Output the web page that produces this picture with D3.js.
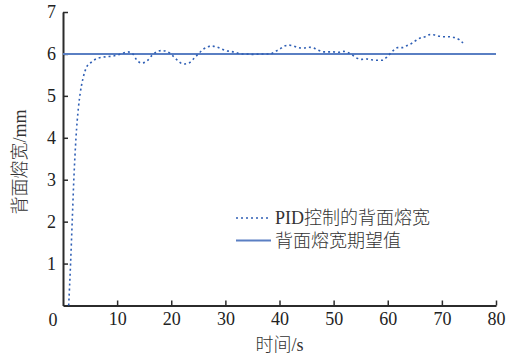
<!DOCTYPE html>
<html>
<head>
<meta charset="utf-8">
<script src="https://cdn.jsdelivr.net/npm/d3@7"></script>
<style>
  body { margin: 0; background: #fff; }
  svg text { font-family: "Liberation Serif", "Noto Sans CJK SC", serif; }
  .cjk { font-weight: 300; }
</style>
</head>
<body>
<svg id="chart" width="519" height="357"></svg>
<script>
// PID-controlled back bead width (time s, width mm)
const pidTime = [1.05, 1.4, 1.7, 2.0, 2.4, 2.85, 3.2, 3.7, 4.3, 5.2, 6.5, 7.8, 9.3, 10.5, 12.0, 12.9, 13.6, 14.5, 15.5, 16.4,
  17.3, 18.2, 19.2, 20.4, 21.3, 22.2, 23.2, 24.1, 25.0, 25.9, 26.8, 27.3, 28.3, 29.1, 30.0, 31.0, 31.8, 32.8, 33.8, 34.7,
  35.6, 36.5, 37.4, 38.3, 39.2, 40.0, 40.8, 41.7, 42.6, 43.5, 44.5, 45.4, 46.3, 47.2, 48.1, 49.0, 49.9, 50.9, 51.8, 52.7,
  53.5, 54.3, 55.2, 56.1, 57.0, 58.0, 58.9, 59.7, 60.4, 61.0, 61.8, 62.7, 63.6, 64.4, 65.2, 66.0, 66.9, 67.8, 68.7, 69.6,
  70.5, 71.4, 72.3, 73.2, 73.9];
const pidWidth = [0, 1, 2, 3, 4, 4.72, 5.08, 5.42, 5.67, 5.8, 5.9, 5.93, 5.95, 5.99, 6.05, 6.0, 5.86, 5.78, 5.83, 5.96,
  6.05, 6.08, 6.06, 5.94, 5.83, 5.76, 5.78, 5.88, 6.0, 6.11, 6.17, 6.19, 6.17, 6.13, 6.08, 6.06, 6.04, 6.0, 6.0, 5.99,
  5.99, 6.0, 6.0, 6.0, 6.06, 6.11, 6.18, 6.21, 6.19, 6.15, 6.14, 6.16, 6.14, 6.09, 6.05, 6.05, 6.05, 6.04, 6.06, 6.03,
  5.97, 5.9, 5.87, 5.88, 5.86, 5.85, 5.85, 5.91, 6.0, 6.08, 6.15, 6.15, 6.2, 6.25, 6.32, 6.38, 6.41, 6.46, 6.45, 6.42,
  6.41, 6.41, 6.39, 6.34, 6.26];
// desired value
const setTime = [0, 80];
const setWidth = [6, 6];

const xTicks = [10, 20, 30, 40, 50, 60, 70, 80];
const yTicks = [1, 2, 3, 4, 5, 6, 7];
const legendLabels = ["PID控制的背面熔宽", "背面熔宽期望值"];

const M = { left: 63, right: 496, top: 12, bottom: 305.5 };
const svg = d3.select("#chart");

const x = d3.scaleLinear().domain([0, 80]).range([M.left, M.right]);
const y = d3.scaleLinear().domain([0, 7]).range([M.bottom, M.top]);

const axisColor = "#2b2b2b";
const textColor = "#222";

// axes
const xAxis = svg.append("g")
  .attr("transform", `translate(0,${M.bottom})`)
  .call(d3.axisBottom(x).tickValues(xTicks).tickFormat(d3.format("d"))
    .tickSize(-5).tickPadding(10).tickSizeOuter(0));
const yAxis = svg.append("g")
  .attr("transform", `translate(${M.left},0)`)
  .call(d3.axisLeft(y).tickValues(yTicks).tickFormat(d3.format("d"))
    .tickSize(-5).tickPadding(7).tickSizeOuter(0));

[xAxis, yAxis].forEach(g => {
  g.select(".domain").attr("stroke", axisColor).attr("stroke-width", 2);
  g.selectAll(".tick line").attr("stroke", axisColor).attr("stroke-width", 1.5);
  g.selectAll(".tick text").attr("fill", textColor).style("font-size", "18px");
});
xAxis.selectAll(".tick text").attr("dy", "0.55em");

svg.append("text")
  .attr("x", 53).attr("y", 320).attr("dy", "0.35em")
  .attr("text-anchor", "middle").attr("fill", textColor)
  .style("font-size", "18px").text("0");

// axis titles
svg.append("text").attr("class", "cjk")
  .attr("x", (M.left + M.right) / 2).attr("y", 345).attr("dy", "0.35em")
  .attr("text-anchor", "middle").attr("fill", "#333")
  .style("font-size", "18px").text("时间/s");
svg.append("text").attr("class", "cjk")
  .attr("transform", "translate(20,162) rotate(-90)")
  .attr("dy", "0.35em")
  .attr("text-anchor", "middle").attr("fill", "#333")
  .style("font-size", "18px").text("背面熔宽/mm");

const line = d3.line().x(d => x(d[0])).y(d => y(d[1])).curve(d3.curveMonotoneX);

const setColor = "#5a7fc3";
const pidColor = "#2f5fb5";

svg.append("path")
  .datum(d3.zip(setTime, setWidth))
  .attr("d", line)
  .attr("fill", "none").attr("stroke", setColor).attr("stroke-width", 2);

svg.append("path")
  .datum(d3.zip(pidTime, pidWidth))
  .attr("d", line)
  .attr("fill", "none").attr("stroke", pidColor).attr("stroke-width", 1.6)
  .attr("stroke-dasharray", "2,3");

// legend
const legend = svg.append("g");
const legendRows = [
  { y: 218, dash: "2,3", color: pidColor, width: 1.6 },
  { y: 240.5, dash: null, color: setColor, width: 2 }
];
legendRows.forEach((r, i) => {
  legend.append("line")
    .attr("x1", 236).attr("x2", 271).attr("y1", r.y).attr("y2", r.y)
    .attr("stroke", r.color).attr("stroke-width", r.width)
    .attr("stroke-dasharray", r.dash);
  legend.append("text").attr("class", "cjk")
    .attr("x", 275).attr("y", r.y).attr("dy", "0.35em")
    .attr("fill", "#333").style("font-size", "18px")
    .text(legendLabels[i]);
});
</script>
</body>
</html>
